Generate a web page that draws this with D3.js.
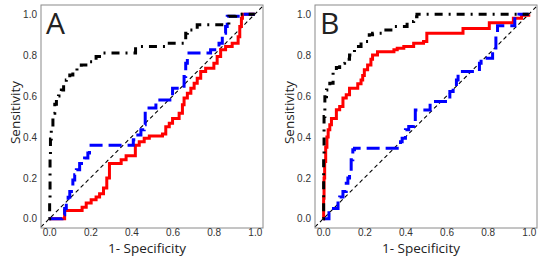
<!DOCTYPE html>
<html>
<head>
<meta charset="utf-8">
<script src="https://cdn.jsdelivr.net/npm/d3@7"></script>
<style>
  body { margin: 0; background: #fff; }
  .tick text { font-family: "Liberation Sans", Arial, sans-serif; font-size: 10px; fill: #333; }
  .title { font-family: "Open Sans", sans-serif; font-size: 13.5px; fill: #222; }
  .letter { font-family: "Open Sans", sans-serif; font-size: 30px; fill: #222; }
</style>
</head>
<body>
<div id="chart"></div>
<script>
// ROC curves, two panels
var ticks = [0, 0.2, 0.4, 0.6, 0.8, 1.0];
var panelNames = ["A", "B"];

// panel A
var aRedX = [0, 0.059, 0.075, 0.16, 0.18, 0.204, 0.228, 0.245, 0.264, 0.28, 0.293, 0.35, 0.374, 0.419, 0.438, 0.462, 0.487, 0.551, 0.567, 0.584, 0.60, 0.632, 0.648, 0.656, 0.672, 0.689, 0.705, 0.72, 0.737, 0.761, 0.801, 0.817, 0.834, 0.858, 0.89, 0.919, 0.927, 0.935, 0.94, 1.0];
var aRedY = [0, 0, 0.04, 0.057, 0.077, 0.093, 0.106, 0.122, 0.15, 0.2, 0.27, 0.288, 0.308, 0.36, 0.377, 0.394, 0.405, 0.415, 0.45, 0.467, 0.49, 0.516, 0.557, 0.59, 0.614, 0.638, 0.663, 0.687, 0.72, 0.736, 0.76, 0.793, 0.826, 0.842, 0.858, 0.89, 0.94, 0.98, 1.0, 1.0];

var aBlueX = [0, 0.062, 0.075, 0.083, 0.092, 0.1, 0.108, 0.115, 0.124, 0.132, 0.148, 0.172, 0.188, 0.196, 0.409, 0.422, 0.446, 0.462, 0.467, 0.519, 0.6, 0.656, 0.664, 0.672, 0.785, 0.826, 0.842, 0.858, 0.866, 0.937, 1.0];
var aBlueY = [0, 0.02, 0.05, 0.077, 0.105, 0.133, 0.16, 0.19, 0.215, 0.24, 0.27, 0.297, 0.321, 0.36, 0.386, 0.41, 0.435, 0.46, 0.541, 0.581, 0.638, 0.695, 0.76, 0.81, 0.826, 0.858, 0.907, 0.94, 0.99, 1.0, 1.0];

var aBlackX = [0, 0.002, 0.004, 0.006, 0.01, 0.018, 0.027, 0.035, 0.045, 0.059, 0.07, 0.083, 0.1, 0.115, 0.135, 0.156, 0.19, 0.228, 0.26, 0.42, 0.584, 0.664, 0.672, 0.72, 0.874, 0.907, 1.0];
var aBlackY = [0, 0.1, 0.3, 0.39, 0.45, 0.516, 0.56, 0.581, 0.6, 0.63, 0.66, 0.679, 0.703, 0.72, 0.735, 0.752, 0.768, 0.793, 0.81, 0.842, 0.858, 0.907, 0.923, 0.948, 0.99, 1.0, 1.0];

// panel B
var bRedX = [0, 0.002, 0.004, 0.007, 0.012, 0.018, 0.024, 0.032, 0.04, 0.064, 0.08, 0.096, 0.112, 0.128, 0.168, 0.184, 0.192, 0.2, 0.216, 0.232, 0.24, 0.264, 0.344, 0.36, 0.392, 0.44, 0.488, 0.504, 0.68, 0.808, 0.925, 0.965, 1.0];
var bRedY = [0, 0.1, 0.2, 0.28, 0.35, 0.4, 0.435, 0.46, 0.49, 0.533, 0.549, 0.59, 0.606, 0.638, 0.66, 0.679, 0.70, 0.728, 0.752, 0.78, 0.801, 0.817, 0.826, 0.834, 0.842, 0.858, 0.866, 0.907, 0.93, 0.958, 0.98, 0.995, 1.0];

var bBlueX = [0, 0.028, 0.036, 0.072, 0.08, 0.096, 0.112, 0.12, 0.128, 0.136, 0.144, 0.152, 0.36, 0.376, 0.384, 0.4, 0.416, 0.44, 0.448, 0.52, 0.616, 0.632, 0.648, 0.656, 0.76, 0.768, 0.824, 0.84, 0.848, 0.932, 0.952, 1.0];
var bBlueY = [0, 0.03, 0.05, 0.09, 0.107, 0.133, 0.174, 0.199, 0.223, 0.288, 0.337, 0.345, 0.353, 0.377, 0.394, 0.435, 0.451, 0.475, 0.532, 0.573, 0.622, 0.646, 0.679, 0.72, 0.76, 0.785, 0.826, 0.907, 0.943, 0.99, 1.0, 1.0];

var bBlackX = [0, 0.002, 0.004, 0.008, 0.016, 0.032, 0.048, 0.064, 0.08, 0.104, 0.128, 0.152, 0.184, 0.224, 0.24, 0.296, 0.344, 0.408, 0.44, 0.456, 1.0];
var bBlackY = [0, 0.3, 0.5, 0.597, 0.63, 0.663, 0.72, 0.74, 0.76, 0.78, 0.801, 0.842, 0.866, 0.899, 0.907, 0.923, 0.94, 0.964, 0.988, 1.0, 1.0];

var svgWidth = 543;
var svgHeight = 257;
var boxW = 222;
var boxH = 223;
var panelLeft = [41, 315];
var panelTop = 5;

var svg = d3.select("#chart")
    .append("svg")
    .attr("width", svgWidth)
    .attr("height", svgHeight);

var xScale = d3.scaleLinear().domain([-0.04, 1.04]).range([0, boxW]);
var yScale = d3.scaleLinear().domain([-0.045, 1.045]).range([boxH, 0]);

function zip(xs, ys) {
    return xs.map(function(x, i) { return [x, ys[i]]; });
}

var line = d3.line()
    .x(d => xScale(d[0]))
    .y(d => yScale(d[1]))
    .curve(d3.curveStepAfter);

var curves = [
    [
        {pts: zip(aRedX, aRedY), color: "#ff0000", dash: null},
        {pts: zip(aBlueX, aBlueY), color: "#0000ff", dash: "13,6"},
        {pts: zip(aBlackX, aBlackY), color: "#000000", dash: "2,6,8,6"}
    ],
    [
        {pts: zip(bRedX, bRedY), color: "#ff0000", dash: null},
        {pts: zip(bBlueX, bBlueY), color: "#0000ff", dash: "13,6"},
        {pts: zip(bBlackX, bBlackY), color: "#000000", dash: "2,6,8,6"}
    ]
];

panelNames.forEach(function(name, p) {
    var g = svg.append("g")
        .attr("transform", `translate(${panelLeft[p]}, ${panelTop})`);

    // diagonal reference
    g.append("path")
        .attr("d", d3.line().x(d => xScale(d)).y(d => yScale(d))([-0.04, 1.04]))
        .attr("fill", "none")
        .attr("stroke", "#000")
        .attr("stroke-width", 1.1)
        .attr("stroke-dasharray", "4,3");

    curves[p].forEach(function(c) {
        g.append("path")
            .attr("d", line(c.pts))
            .attr("fill", "none")
            .attr("stroke", c.color)
            .attr("stroke-width", 3)
            .attr("stroke-dasharray", c.dash);
    });

    g.append("rect")
        .attr("width", boxW)
        .attr("height", boxH)
        .attr("fill", "none")
        .attr("stroke", "#8a8a8a")
        .attr("stroke-width", 1);

    var xAxis = g.append("g")
        .attr("transform", `translate(0, ${boxH})`)
        .call(d3.axisBottom(xScale).tickValues(ticks).tickSize(0).tickPadding(1).tickFormat(d3.format(".1f")));
    xAxis.select(".domain").remove();

    var yAxis = g.append("g")
        .call(d3.axisLeft(yScale).tickValues(ticks).tickSize(0).tickPadding(4).tickFormat(d3.format(".1f")));
    yAxis.select(".domain").remove();

    g.append("text")
        .attr("class", "letter")
        .attr("x", 5)
        .attr("y", 28.5)
        .text(name);

    g.append("text")
        .attr("class", "title")
        .attr("text-anchor", "middle")
        .attr("x", boxW / 2 - 5)
        .attr("y", boxH + 25)
        .text("1- Specificity");

    g.append("text")
        .attr("class", "title")
        .attr("text-anchor", "middle")
        .attr("transform", "rotate(-90)")
        .attr("x", -(boxH / 2 - 4))
        .attr("y", -21)
        .text("Sensitivity");
});
</script>
</body>
</html>
